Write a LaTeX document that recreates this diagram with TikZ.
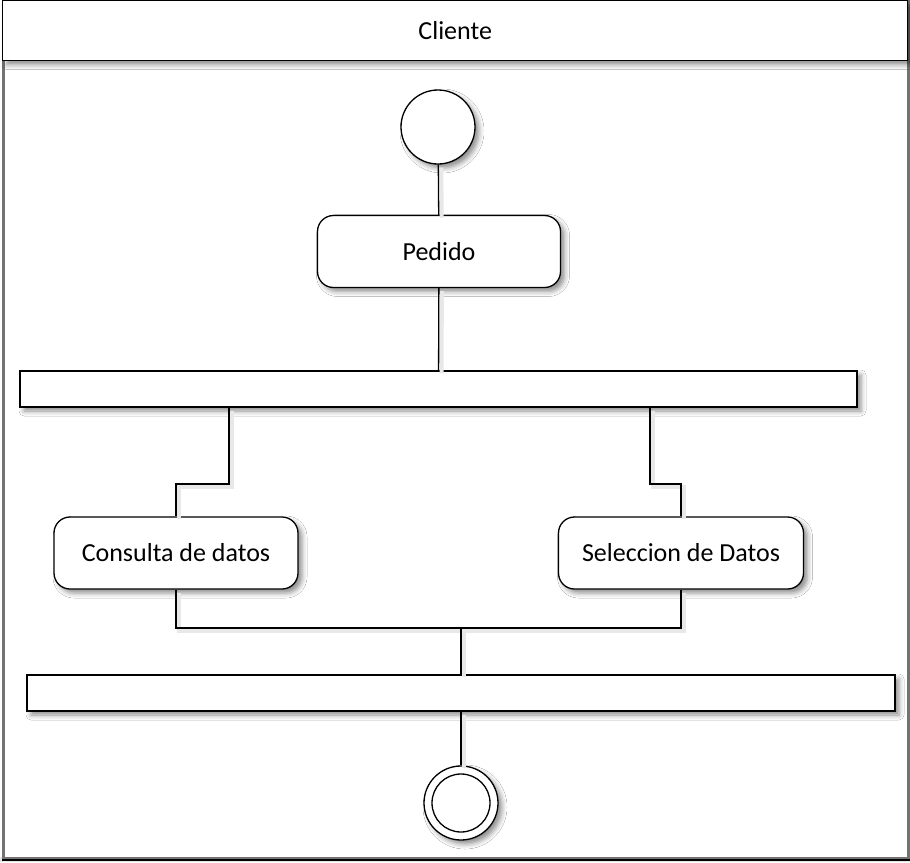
\documentclass[tikz,border=0pt]{standalone}
\usepackage{fontspec}
\setmainfont{Carlito}
\usetikzlibrary{shadows.blur}
\begin{document}
\begin{tikzpicture}[x=1pt, y=-1pt, line width=1.3pt,
  font=\fontsize{26}{31}\selectfont,
  soft/.style={blur shadow={shadow xshift=4pt, shadow yshift=-4pt,
      shadow blur radius=5pt, shadow opacity=45}},
  action/.style={draw, fill=white, rounded corners=16pt, soft,
      minimum width=243, minimum height=72, inner sep=0pt},
  bar/.style={draw, fill=white, soft, minimum height=36, inner sep=0pt},
  initial/.style={draw, fill=white, circle, soft, minimum size=74, inner sep=0pt},
  finalout/.style={draw, fill=white, circle, soft, minimum size=74, inner sep=0pt},
  finalin/.style={draw, fill=white, circle, minimum size=58, inner sep=0pt},
  flow/.style={draw, line width=1.3pt,
      preaction={draw=black!9, line width=4pt,
        transform canvas={shift={(3pt,-3pt)}}}},
  lanefill/.style={fill=white, draw=black!55, line width=2.6pt, inner sep=0pt},
  headfill/.style={fill=white, draw, line width=1.4pt, inner sep=0pt, soft},
]
\useasboundingbox (0,0) rectangle (910,862);
\fill[black!10] (0,857) rectangle (910,862);

% swimlane frame and header
\node[lanefill, anchor=north west, minimum width=905, minimum height=857]
  (lane) at (2,0) {};
\draw[line width=2pt] (lane.south west) -- (lane.south east);
\node[headfill, anchor=north west, minimum width=905, minimum height=60]
  (head) at (2,0) {Cliente};

% activity nodes
\node[initial] (start) at (438,127) {};
\node[action] (pedido) at (439,251.5) {Pedido};
\node[bar, minimum width=837] (fork) at (438.5,389) {};
\node[action, minimum width=244] (consulta) at (176,553) {Consulta de datos};
\node[action, minimum width=245] (seleccion) at (681,553) {Seleccion de Datos};
\node[bar, minimum width=868] (join) at (461,693) {};
\node[finalout] (final) at (461,803) {};
\node[finalin] (finalc) at (461,803) {};

% routing points
\coordinate (ca) at (229,484);
\coordinate (sa) at (650,484);
\coordinate (jn) at (461,628);

% control flows
\draw[flow] (start) -- (pedido);
\draw[flow] (pedido) -- (fork);
\draw[flow] (fork.south -| ca) -- (ca) -| (consulta.north);
\draw[flow] (fork.south -| sa) -- (sa) -| (seleccion.north);
\draw[flow] (consulta.south) |- (jn) -| (seleccion.south);
\draw[flow] (jn) -- (join.north);
\draw[flow] (join.south) -- (final);
\end{tikzpicture}
\end{document}
